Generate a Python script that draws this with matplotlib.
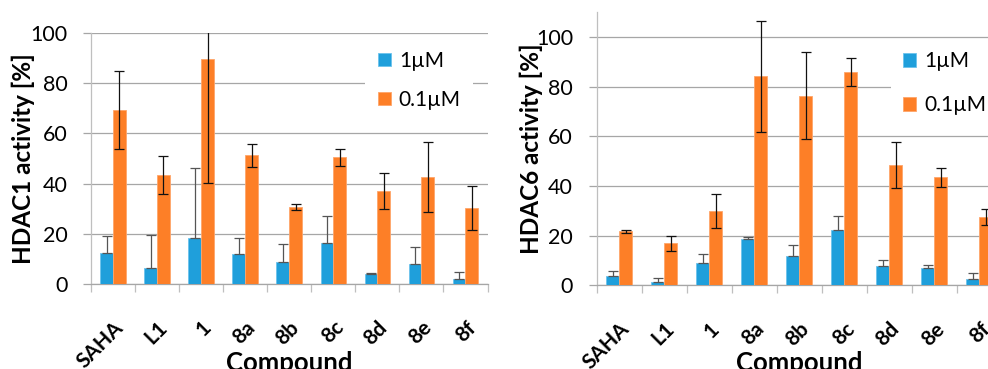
import numpy as np
import matplotlib
matplotlib.use("Agg")
import matplotlib.pyplot as plt

plt.rcParams['font.family'] = ['Lato', 'DejaVu Sans']

compounds = ['SAHA', 'L1', '1', '8a', '8b', '8c', '8d', '8e', '8f']
series = ['1µM', '0.1µM']

# HDAC1 activity [%]
hdac1_1uM = [12.3, 6.4, 18.3, 11.8, 8.8, 16.5, 3.9, 8.1, 2.0]
hdac1_1uM_err = [6.8, 13.0, 28.0, 6.5, 7.3, 10.5, 0.3, 6.8, 2.8]
hdac1_01uM = [69.4, 43.4, 89.8, 51.3, 30.7, 50.5, 37.0, 42.6, 30.3]
hdac1_01uM_err = [15.5, 7.4, 49.4, 4.6, 1.2, 3.4, 7.2, 13.8, 8.6]

# HDAC6 activity [%]
hdac6_1uM = [3.6, 1.3, 9.1, 18.6, 11.8, 22.1, 7.9, 7.0, 2.7]
hdac6_1uM_err = [2.3, 1.5, 3.5, 0.7, 4.4, 5.7, 2.4, 1.3, 2.1]
hdac6_01uM = [21.7, 16.9, 29.8, 84.1, 76.3, 85.9, 48.4, 43.4, 27.6]
hdac6_01uM_err = [0.7, 3.1, 6.9, 22.2, 17.4, 5.7, 9.4, 3.8, 3.2]

blue = '#1f9fdb'
orange = '#fd7f27'
grid_c = '#a6a6a6'
spine_c = '#bfbfbf'

fig = plt.figure(figsize=(9.88, 3.69), dpi=100)
W, H = 988, 369


def panel(rect_px, vals_a, err_a, vals_b, err_b, ymax, ylabel, leg_anchor, lspace,
          ylab_x, xlab_y):
    x0, x1, ybot, ytop = rect_px
    ax = fig.add_axes([x0 / W, (H - ybot) / H, (x1 - x0) / W, (ybot - ytop) / H])
    x = np.arange(len(compounds))
    w = 0.29
    ax.bar(x - w / 2, vals_a, w, color=blue, edgecolor='#6cc3ec', linewidth=0.6,
           label=series[0], zorder=3)
    ax.bar(x + w / 2, vals_b, w, color=orange, edgecolor='#ffa56a', linewidth=0.6,
           label=series[1], zorder=3)
    ax.errorbar(x - w / 2, vals_a, yerr=[np.zeros(len(err_a)), err_a], fmt='none',
                ecolor='#555555', elinewidth=0.9, capsize=3.5, capthick=0.9, zorder=4)
    ax.errorbar(x + w / 2, vals_b, yerr=err_b, fmt='none',
                ecolor='#111111', elinewidth=0.9, capsize=3.5, capthick=0.9, zorder=4)
    ax.set_xlim(-0.5, len(compounds) - 0.5)
    ax.set_ylim(0, ymax)
    ax.set_yticks(np.arange(0, 101, 20))
    ax.yaxis.grid(True, color=grid_c, linewidth=0.9, zorder=0)
    ax.set_axisbelow(True)
    for s in ['top', 'right']:
        ax.spines[s].set_visible(False)
    ax.spines['left'].set_color(spine_c)
    ax.spines['bottom'].set_color(grid_c)
    ax.spines['left'].set_linewidth(0.9)
    ax.spines['bottom'].set_linewidth(0.9)
    ax.tick_params(axis='y', length=6, color=grid_c, width=0.9, labelsize=15.5, pad=11)
    ax.set_xticks(x)
    ax.set_xticklabels(compounds, rotation=45, ha='right', va='top',
                       rotation_mode='anchor', fontweight='bold', fontsize=15)
    ax.tick_params(axis='x', length=0, pad=24)
    # category boundary ticks
    ax.set_xticks(np.arange(-0.5, len(compounds) + 0.5, 1), minor=True)
    ax.tick_params(axis='x', which='minor', length=6, color=spine_c, width=0.9)
    ax.set_ylabel(ylabel, fontsize=17.5, fontweight='bold')
    ax.yaxis.set_label_coords(ylab_x, 0.5)
    ax.set_xlabel('Compound', fontsize=18.5, fontweight='bold')
    ax.xaxis.set_label_coords(0.5, xlab_y)
    leg = ax.legend(loc='upper left', bbox_to_anchor=leg_anchor, fontsize=15,
                    frameon=True, facecolor='white', edgecolor='none', framealpha=1,
                    handlelength=0.62, handleheight=0.62, handletextpad=0.4,
                    labelspacing=lspace, borderpad=0.6, fancybox=False)
    leg.set_zorder(5)
    return ax


panel((91, 487.5, 284, 33), hdac1_1uM, hdac1_1uM_err, hdac1_01uM, hdac1_01uM_err,
      100, 'HDAC1 activity [%]', (0.665, 1.02), 0.91, -0.141, -0.265)
panel((596.7, 1001.7, 285.3, 12), hdac6_1uM, hdac6_1uM_err, hdac6_01uM, hdac6_01uM_err,
      110, 'HDAC6 activity [%]', (0.7, 0.94), 1.15, -0.133, -0.24)

fig.savefig('out.png', dpi=100)
